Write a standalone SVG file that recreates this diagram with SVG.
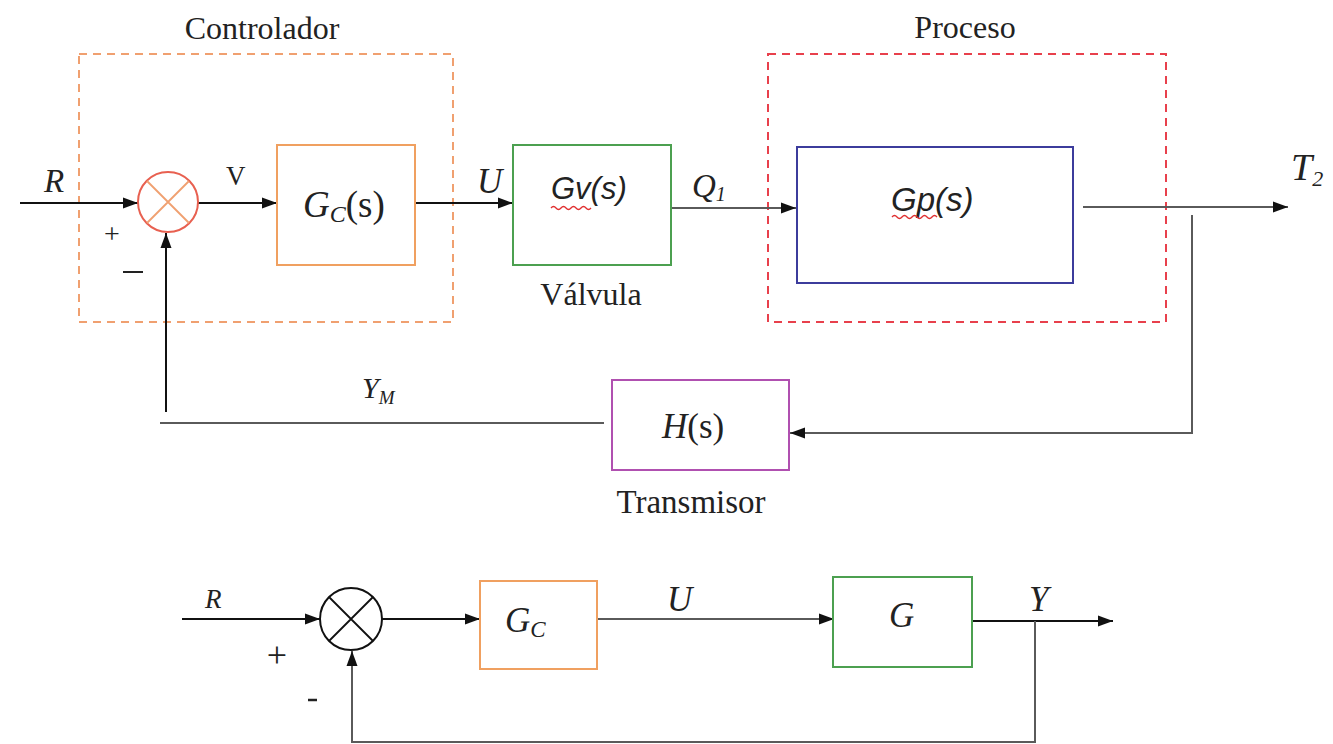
<svg xmlns="http://www.w3.org/2000/svg" width="1333" height="744" viewBox="0 0 1333 744">
<defs>
<marker id="arr" markerUnits="userSpaceOnUse" markerWidth="16" markerHeight="12" refX="15" refY="6" orient="auto">
<path d="M0,0.5 L15,6 L0,11.5 z" fill="#111"/>
</marker>
<style>
.t{font-family:"Liberation Serif","Times New Roman",serif;fill:#222}
.i{font-style:italic}
.s{font-family:"Liberation Sans",Arial,sans-serif;font-style:italic;fill:#222}
.ln{stroke:#111;stroke-width:2;fill:none}
.gl{stroke:#5a5a5a;stroke-width:2;fill:none}
.box{fill:#fff;stroke-width:2}
.wavy{stroke:#e03030;stroke-width:1.3;fill:none}
</style>
</defs>
<rect width="1333" height="744" fill="#fff"/>

<g id="controlador">
<rect x="79" y="54" width="374" height="268" fill="none" stroke="#f0a070" stroke-width="2" stroke-dasharray="8,6"/>
<text class="t" x="262" y="39" font-size="32" text-anchor="middle">Controlador</text>
</g>
<g id="proceso">
<rect x="768" y="54" width="398" height="268" fill="none" stroke="#e8404c" stroke-width="2" stroke-dasharray="8,6"/>
<text class="t" x="965" y="38" font-size="32" text-anchor="middle">Proceso</text>
</g>

<g id="connectors">
<line class="ln" x1="20" y1="203" x2="138" y2="203" marker-end="url(#arr)"/>
<line class="ln" x1="198" y1="203" x2="277" y2="203" marker-end="url(#arr)"/>
<line class="ln" x1="415" y1="203" x2="513" y2="203" marker-end="url(#arr)"/>
<line class="gl" x1="671" y1="208" x2="796" y2="208" marker-end="url(#arr)"/>
<line class="gl" x1="1083" y1="207" x2="1288" y2="207" marker-end="url(#arr)"/>
<polyline class="gl" points="1192,215 1192,433 790,433" marker-end="url(#arr)"/>
<line class="gl" x1="604" y1="423" x2="160" y2="423"/>
<line class="ln" x1="166" y1="412" x2="166" y2="233" marker-end="url(#arr)"/>

<line class="ln" x1="182" y1="619" x2="320" y2="619" marker-end="url(#arr)"/>
<line class="ln" x1="382" y1="619" x2="480" y2="619" marker-end="url(#arr)"/>
<line class="gl" x1="597" y1="619" x2="834" y2="619" marker-end="url(#arr)"/>
<line class="ln" x1="972" y1="621" x2="1113" y2="621" marker-end="url(#arr)"/>
<polyline class="gl" points="1035,621 1035,742 352,742 352,651" marker-end="url(#arr)"/>
</g>

<g id="labels">
<text class="t i" x="44" y="192" font-size="33">R</text>
<text class="t" x="112" y="243" font-size="28" text-anchor="middle">+</text>
<line x1="123" y1="272" x2="143" y2="272" stroke="#222" stroke-width="2"/>
<text class="t" x="226" y="185" font-size="27">V</text>
<text class="t i" x="477" y="193" font-size="35">U</text>
<text class="t i" x="692" y="197" font-size="33">Q<tspan font-size="20" dy="4">1</tspan></text>
<text class="t i" x="1291" y="180" font-size="38">T<tspan font-size="22" dy="6">2</tspan></text>
<text class="t i" x="362" y="398" font-size="30">Y<tspan font-size="19" dy="6">M</tspan></text>

<text class="t i" x="205" y="608" font-size="27">R</text>
<text class="t" x="277" y="667" font-size="36" text-anchor="middle">+</text>
<line x1="308" y1="700" x2="317" y2="700" stroke="#222" stroke-width="2.5"/>
<text class="t i" x="667" y="611" font-size="35">U</text>
<text class="t i" x="1029" y="611" font-size="35">Y</text>
</g>

<g id="sum1">
<circle cx="168" cy="202" r="30" fill="#fff" stroke="#e86050" stroke-width="2"/>
<path d="M147,181 L189,223 M189,181 L147,223" stroke="#f0a070" stroke-width="1.8"/>
</g>
<g id="gc_s">
<rect class="box" x="277" y="145" width="138" height="120" stroke="#f0a060"/>
<text class="t" x="303" y="217" font-size="37"><tspan class="i">G</tspan><tspan class="i" font-size="24" dy="5">C</tspan><tspan dy="-5">(s)</tspan></text>
</g>
<g id="gv_s">
<rect class="box" x="513" y="145" width="158" height="120" stroke="#4ca050"/>
<text class="s" x="551" y="199" font-size="31">Gv(s)</text>
<path class="wavy" d="M551,208 q2.5,-3 5,0 t5,0 t5,0 t5,0 t5,0 t5,0 t5,0 t5,0"/>
<text class="t" x="591" y="305" font-size="32" text-anchor="middle">Válvula</text>
</g>
<g id="gp_s">
<rect class="box" x="797" y="147" width="276" height="136" stroke="#3c3c9c"/>
<text class="s" x="891" y="211" font-size="33">Gp(s)</text>
<path class="wavy" d="M892,217 q2.5,-3 5,0 t5,0 t5,0 t5,0 t5,0 t5,0 t5,0 t5,0 t5,0"/>
</g>
<g id="h_s">
<rect class="box" x="612" y="380" width="177" height="90" stroke="#b050b0"/>
<text class="t" x="662" y="438" font-size="35"><tspan class="i">H</tspan>(s)</text>
<text class="t" x="691" y="513" font-size="33" text-anchor="middle">Transmisor</text>
</g>

<g id="sum2">
<circle cx="351" cy="619" r="31" fill="#fff" stroke="#111" stroke-width="2"/>
<path d="M329,597 L373,641 M373,597 L329,641" stroke="#111" stroke-width="1.8"/>
</g>
<g id="gc">
<rect class="box" x="480" y="581" width="117" height="88" stroke="#f0a060"/>
<text class="t i" x="505" y="632" font-size="35">G<tspan font-size="23" dy="5">C</tspan></text>
</g>
<g id="g">
<rect class="box" x="833" y="577" width="139" height="90" stroke="#4ca050"/>
<text class="t i" x="889" y="627" font-size="35">G</text>
</g>
</svg>
